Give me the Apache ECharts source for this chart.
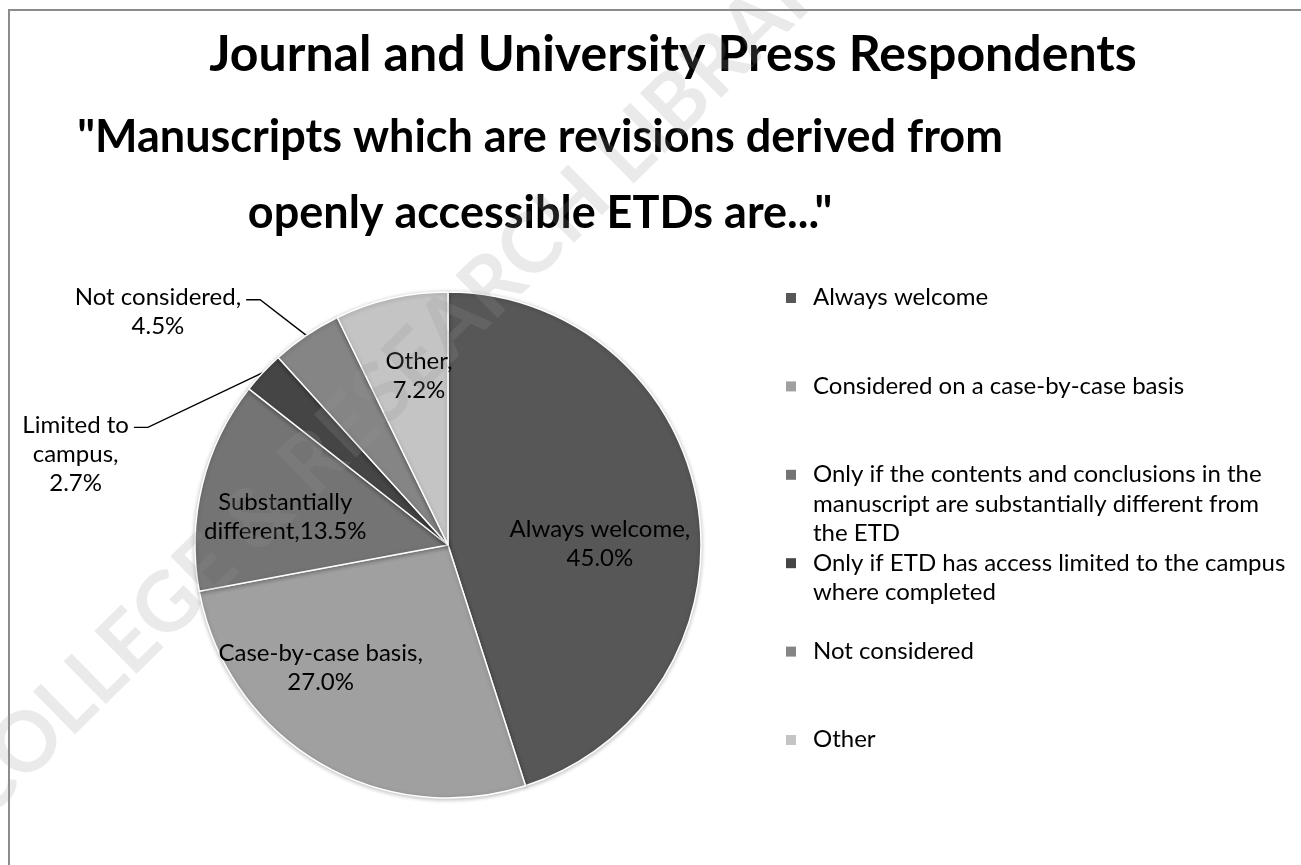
<!DOCTYPE html>
<html><head><meta charset="utf-8">
<script src="https://cdn.jsdelivr.net/npm/echarts@6/dist/echarts.min.js"></script>
<style>html,body{margin:0;padding:0;background:#fff}#c{width:1301px;height:865px}</style>
</head><body><div id="c"></div>
<script>
// ---- data ----
const categories = [
  'Always welcome',
  'Considered on a case-by-case basis',
  'Only if the contents and conclusions in the manuscript are substantially different from the ETD',
  'Only if ETD has access limited to the campus where completed',
  'Not considered',
  'Other'
];
const values = [45.0, 27.0, 13.5, 2.7, 4.5, 7.2];
const sliceNames = ['Always welcome,\n', 'Case-by-case basis,\n', 'Substantially\ndifferent,', 'Limited to\ncampus,\n', 'Not considered,\n', 'Other,\n'];
const legendLines = [
  ['Always welcome'],
  ['Considered on a case-by-case basis'],
  ['Only if the contents and conclusions in the', 'manuscript are substantially different from', 'the ETD'],
  ['Only if ETD has access limited to the campus', 'where completed'],
  ['Not considered'],
  ['Other']
];
const titleText = 'Journal and University Press Respondents';
const subtitleText = '"Manuscripts which are revisions derived from\nopenly accessible ETDs are..."';
const watermarkText = 'COLLEGE & RESEARCH LIBRARIES';

// ---- style ----
const colors = ['#575757', '#a0a0a0', '#747474', '#454545', '#858585', '#c4c4c4'];
const FONT = 'Lato';
const LABEL_FS = 24, LABEL_LH = 29;
const LEGEND_FS = 24, LEGEND_LH = 29.5;
const outside = [false, false, false, true, true, false];
const labelShift = [[24, 19], [-61, 12], [-37, 3], [-138, 109], [-106, 10], [0, -43]];

const chart = echarts.init(document.getElementById('c'), null, {renderer: 'canvas'});

const legends = categories.map(function (c, i) {
  return {
    data: [c], orient: 'vertical', left: 786, top: 283 + i * 88.4, padding: 0,
    itemWidth: 10, itemHeight: 10, icon: 'rect', selectedMode: false,
    itemStyle: {borderWidth: 0, shadowBlur: 0, shadowOffsetY: 0},
    formatter: function (name) {
      const k = categories.indexOf(name);
      return legendLines[k].map(function (l) { return '{a|' + l + '}'; }).join('\n');
    },
    textStyle: {fontFamily: FONT, fontSize: LEGEND_FS, color: '#000', height: 30, lineHeight: LEGEND_LH,
      padding: [0, 0, 0, 12],
      rich: {a: {fontFamily: FONT, fontSize: LEGEND_FS, color: '#000', lineHeight: LEGEND_LH}}}
  };
});

const option = {
  backgroundColor: '#fff',
  animation: false,
  title: [
    {text: titleText, left: 673, top: 26, textAlign: 'center', padding: 0,
     textStyle: {fontFamily: FONT, fontWeight: 'bold', fontSize: 50, lineHeight: 58, color: '#000'}},
    {text: subtitleText, left: 540, top: 99, textAlign: 'center', padding: 0,
     textStyle: {fontFamily: FONT, fontWeight: 'bold', fontSize: 45, lineHeight: 76, color: '#000'}}
  ],
  legend: legends,
  graphic: [
    {type: 'rect', z: 0, silent: true, shape: {x: 9, y: 10, width: 1400, height: 1000},
     style: {fill: 'none', stroke: '#8c8c8c', lineWidth: 2}},
    {type: 'text', z: 100, silent: true, x: 432, y: 345, rotation: 0.778,
     style: {text: watermarkText, fontFamily: FONT, fontWeight: 'bold', fontSize: 83,
       fill: 'rgba(150,150,150,0.2)', align: 'center', verticalAlign: 'middle'}}
  ],
  series: [{
    type: 'pie',
    center: [448, 545],
    radius: 253,
    startAngle: 90,
    clockwise: true,
    avoidLabelOverlap: false,
    itemStyle: {borderColor: '#fff', borderWidth: 1.5, shadowBlur: 4, shadowColor: 'rgba(0,0,0,0.25)', shadowOffsetY: 1},
    emphasis: {disabled: true},
    label: {
      color: '#000', fontFamily: FONT, fontSize: LABEL_FS, lineHeight: LABEL_LH,
      formatter: function (p) { return sliceNames[p.dataIndex] + p.value.toFixed(1) + '%'; }
    },
    labelLine: {length: 40, length2: 15, lineStyle: {color: '#000', width: 1.3}},
    labelLayout: function (p) {
      const i = p.dataIndex, s = labelShift[i];
      if (!outside[i]) return {dx: s[0], dy: s[1]};
      const r = p.labelRect;
      const cx = r.x + r.width + s[0];
      const right = cx + r.width / 2;
      const yFirst = r.y + s[1] + LABEL_LH / 2 + 2;
      const e = p.labelLinePoints[0];
      return {dx: s[0], dy: s[1], align: 'center',
        labelLinePoints: [[e[0], e[1]], [right + 5 + 14, yFirst], [right + 5, yFirst]]};
    },
    data: categories.map(function (c, i) {
      return {name: c, value: values[i], itemStyle: {color: colors[i]},
        label: {position: outside[i] ? 'outside' : 'inside'},
        labelLine: {show: outside[i]}};
    })
  }]
};
chart.setOption(option);
</script></body></html>
